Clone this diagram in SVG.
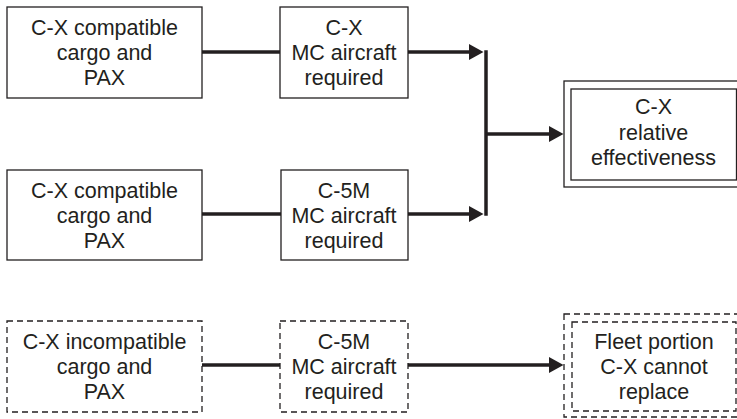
<svg xmlns="http://www.w3.org/2000/svg" width="737" height="419" viewBox="0 0 737 419">
<style>
  .box { fill: #ffffff; stroke: #231f20; stroke-width: 1.3; }
  .dash { fill: #ffffff; stroke: #231f20; stroke-width: 1.3; stroke-dasharray: 6 4; }
  .lbl { font-family: "Liberation Sans", Arial, sans-serif; font-size: 21.5px; fill: #231f20; text-anchor: middle; }
  .conn { stroke: #231f20; stroke-width: 3.5; fill: none; }
</style>
<defs>
  <marker id="ah" markerUnits="userSpaceOnUse" markerWidth="15" markerHeight="17" refX="0" refY="8" orient="auto">
    <path d="M0,0 L14.5,8 L0,16 z" fill="#231f20"/>
  </marker>
</defs>
<rect width="737" height="419" fill="#ffffff"/>

<g id="connectors">
  <line class="conn" x1="202" y1="52" x2="280" y2="52"/>
  <line class="conn" x1="408" y1="52" x2="469" y2="52" marker-end="url(#ah)"/>
  <line class="conn" x1="202" y1="214" x2="281" y2="214"/>
  <line class="conn" x1="408" y1="214" x2="469" y2="214" marker-end="url(#ah)"/>
  <line class="conn" x1="486" y1="50.25" x2="486" y2="215.75"/>
  <line class="conn" x1="486" y1="134" x2="549" y2="134" marker-end="url(#ah)"/>
  <line class="conn" x1="202" y1="365" x2="280" y2="365"/>
  <line class="conn" x1="408" y1="365" x2="549" y2="365" marker-end="url(#ah)"/>
</g>

<g id="a1">
  <rect class="box" x="7" y="7" width="195" height="91"/>
  <text class="lbl" x="104.5" y="35">C-X compatible</text>
  <text class="lbl" x="104.5" y="60">cargo and</text>
  <text class="lbl" x="104.5" y="85">PAX</text>
</g>
<g id="b1">
  <rect class="box" x="280" y="7" width="128" height="91"/>
  <text class="lbl" x="344" y="35">C-X</text>
  <text class="lbl" x="344" y="60">MC aircraft</text>
  <text class="lbl" x="344" y="85">required</text>
</g>
<g id="a2">
  <rect class="box" x="7" y="170" width="195" height="90"/>
  <text class="lbl" x="104.5" y="198">C-X compatible</text>
  <text class="lbl" x="104.5" y="223">cargo and</text>
  <text class="lbl" x="104.5" y="248">PAX</text>
</g>
<g id="b2">
  <rect class="box" x="281" y="170" width="127" height="90"/>
  <text class="lbl" x="344" y="198">C-5M</text>
  <text class="lbl" x="344" y="223">MC aircraft</text>
  <text class="lbl" x="344" y="248">required</text>
</g>
<g id="c1">
  <rect class="box" x="564" y="81" width="180" height="106"/>
  <rect class="box" x="571" y="89" width="165.5" height="91"/>
  <text class="lbl" x="653.5" y="114">C-X</text>
  <text class="lbl" x="653.5" y="139.5">relative</text>
  <text class="lbl" x="653.5" y="165">effectiveness</text>
</g>
<g id="a3">
  <rect class="dash" x="7" y="321" width="195" height="91"/>
  <text class="lbl" x="104.5" y="349">C-X incompatible</text>
  <text class="lbl" x="104.5" y="374">cargo and</text>
  <text class="lbl" x="104.5" y="399">PAX</text>
</g>
<g id="b3">
  <rect class="dash" x="280" y="321" width="128" height="91"/>
  <text class="lbl" x="344" y="349">C-5M</text>
  <text class="lbl" x="344" y="374">MC aircraft</text>
  <text class="lbl" x="344" y="399">required</text>
</g>
<g id="c3">
  <rect class="dash" x="564" y="314" width="180" height="103"/>
  <rect class="dash" x="572" y="322" width="164" height="89"/>
  <text class="lbl" x="654" y="349">Fleet portion</text>
  <text class="lbl" x="654" y="374">C-X cannot</text>
  <text class="lbl" x="654" y="399">replace</text>
</g>
</svg>
